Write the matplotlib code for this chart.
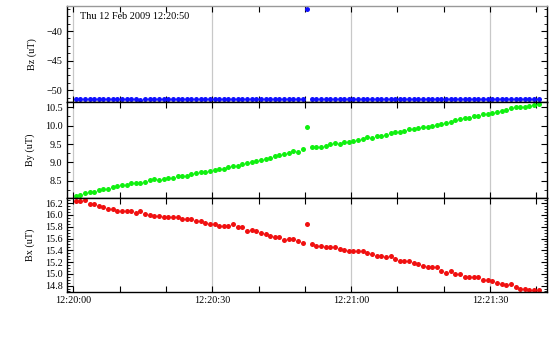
import numpy as np
import matplotlib
matplotlib.use("Agg")
import matplotlib.pyplot as plt
from matplotlib.ticker import MultipleLocator, AutoMinorLocator, FuncFormatter

# sample times, seconds after 12:20:00 (1 Hz)
start_label = "Thu 12 Feb 2009 12:20:50"
seconds = np.arange(101) + 0.5

bz = [-51.55, -51.55, -51.55, -51.55, -51.55, -51.55, -51.55, -51.55, -51.55, -51.55,
      -51.55, -51.55, -51.55, -51.55, -51.70, -51.55, -51.55, -51.55, -51.55, -51.55,
      -51.55, -51.55, -51.55, -51.55, -51.55, -51.55, -51.55, -51.55, -51.55, -51.55,
      -51.55, -51.55, -51.55, -51.55, -51.55, -51.55, -51.55, -51.55, -51.55, -51.55,
      -51.55, -51.55, -51.55, -51.55, -51.55, -51.55, -51.55, -51.55, -51.55, -51.55,
      -36.30,
      -51.55, -51.55, -51.55, -51.55, -51.55, -51.55, -51.55, -51.55, -51.55, -51.55,
      -51.55, -51.55, -51.55, -51.55, -51.55, -51.55, -51.55, -51.55, -51.55, -51.55,
      -51.55, -51.55, -51.55, -51.55, -51.55, -51.55, -51.55, -51.55, -51.55, -51.55,
      -51.55, -51.55, -51.55, -51.55, -51.55, -51.55, -51.55, -51.55, -51.55, -51.55,
      -51.55, -51.55, -51.55, -51.55, -51.55, -51.55, -51.55, -51.55, -51.55, -51.55]

by = [8.10, 8.12, 8.18, 8.21, 8.21, 8.26, 8.27, 8.28, 8.34, 8.37,
      8.39, 8.40, 8.43, 8.45, 8.45, 8.48, 8.53, 8.55, 8.52, 8.55,
      8.58, 8.58, 8.62, 8.64, 8.64, 8.70, 8.72, 8.75, 8.75, 8.77,
      8.80, 8.82, 8.82, 8.87, 8.91, 8.91, 8.97, 8.99, 9.02, 9.05,
      9.08, 9.10, 9.13, 9.18, 9.21, 9.24, 9.26, 9.32, 9.29, 9.36,
      9.96,
      9.42, 9.42, 9.42, 9.45, 9.51, 9.53, 9.51, 9.56, 9.56, 9.59,
      9.62, 9.64, 9.70, 9.67, 9.73, 9.73, 9.75, 9.81, 9.83, 9.83,
      9.86, 9.91, 9.91, 9.94, 9.97, 9.97, 9.99, 10.02, 10.05, 10.08,
      10.10, 10.16, 10.18, 10.21, 10.21, 10.26, 10.26, 10.32, 10.32, 10.35,
      10.37, 10.39, 10.43, 10.48, 10.51, 10.51, 10.51, 10.54, 10.56, 10.59]

bx = [16.24, 16.23, 16.26, 16.18, 16.18, 16.16, 16.14, 16.11, 16.11, 16.07,
      16.07, 16.07, 16.06, 16.04, 16.07, 16.02, 16.00, 15.99, 15.99, 15.96,
      15.97, 15.97, 15.97, 15.94, 15.94, 15.94, 15.89, 15.89, 15.87, 15.84,
      15.84, 15.82, 15.82, 15.82, 15.84, 15.79, 15.79, 15.73, 15.75, 15.72,
      15.70, 15.68, 15.65, 15.62, 15.63, 15.58, 15.60, 15.60, 15.55, 15.53,
      15.84,
      15.50, 15.48, 15.48, 15.46, 15.45, 15.45, 15.43, 15.41, 15.39, 15.39,
      15.39, 15.38, 15.36, 15.33, 15.31, 15.31, 15.29, 15.31, 15.26, 15.22,
      15.21, 15.21, 15.19, 15.17, 15.14, 15.11, 15.11, 15.11, 15.05, 15.02,
      15.04, 15.00, 14.99, 14.95, 14.95, 14.95, 14.94, 14.90, 14.89, 14.87,
      14.84, 14.82, 14.81, 14.82, 14.77, 14.75, 14.75, 14.73, 14.72, 14.73]

plt.rcParams['font.family'] = ['Liberation Serif', 'DejaVu Serif']
plt.rcParams['font.size'] = 7.3
plt.rcParams['axes.unicode_minus'] = True

fig = plt.figure(figsize=(5.6, 3.4), dpi=100)
left, width = 0.119, 0.857
ax_z = fig.add_axes([left, 0.700, width, 0.282])
ax_y = fig.add_axes([left, 0.417, width, 0.283], sharex=ax_z)
ax_x = fig.add_axes([left, 0.141, width, 0.276], sharex=ax_z)


def clock(v, pos):
    s = int(round(v))
    return "12:%02d:%02d" % (20 + s // 60, s % 60)


panels = [
    (ax_z, bz, '#1010ff', 'Bz (uT)', (-51.98, -35.8), 5, 4),
    (ax_y, by, '#10f010', 'By (uT)', (8.03, 10.64), 0.5, 2),
    (ax_x, bx, '#f01010', 'Bx (uT)', (14.69, 16.285), 0.2, 4),
]

for ax, vals, col, lab, lim, major, nminor in panels:
    ax.plot(seconds, vals, 'o', color=col, ms=3.6, mew=0)
    ax.set_ylim(*lim)
    ax.set_xlim(-1.45, 102.2)
    ax.set_ylabel(lab, labelpad=7)
    ax.yaxis.set_major_locator(MultipleLocator(major))
    ax.yaxis.set_minor_locator(AutoMinorLocator(nminor))
    ax.xaxis.set_major_locator(MultipleLocator(10))
    ax.tick_params(which='both', direction='in', top=True, right=True,
                   labelright=False, pad=3)
    ax.tick_params(which='major', length=4, width=0.8)
    ax.tick_params(which='minor', length=2, width=0.6)
    for t in (0, 30, 60, 90):
        ax.axvline(t, color='#c8c8c8', lw=0.9, zorder=0)
    for sp in ax.spines.values():
        sp.set_linewidth(1.0)

ax_z.spines['top'].set_color('#999999')
ax_z.tick_params(labelbottom=False)
ax_y.tick_params(labelbottom=False)
ax_y.yaxis.set_major_formatter(FuncFormatter(lambda v, p: "%.1f" % v))
ax_x.yaxis.set_major_formatter(FuncFormatter(lambda v, p: "%.1f" % v))
ax_x.xaxis.set_major_formatter(
    FuncFormatter(lambda v, p: clock(v, p) if int(round(v)) % 30 == 0 else ""))

ax_z.text(0.028, 0.89, start_label, transform=ax_z.transAxes, fontsize=7.4,
          ha='left', va='center')

fig.savefig('out.png', dpi=100)
